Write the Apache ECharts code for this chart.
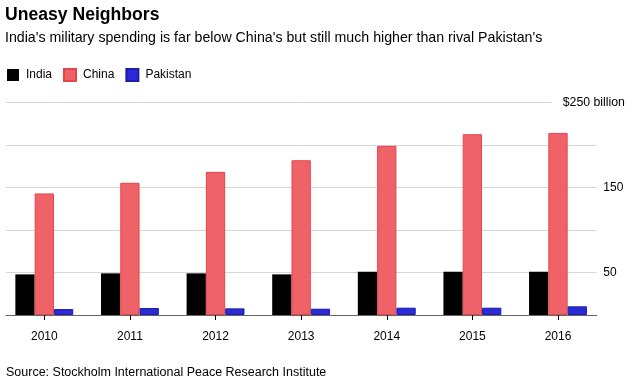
<!DOCTYPE html>
<html>
<head>
<meta charset="utf-8">
<script src="https://cdn.jsdelivr.net/npm/echarts@6/dist/echarts.min.js"></script>
<style>
html,body{margin:0;padding:0;background:#fff;}
#chart{width:640px;height:387px;}
</style>
</head>
<body>
<div id="chart"></div>
<script>
var years = ['2010', '2011', '2012', '2013', '2014', '2015', '2016'];
var india = [47.8, 49.0, 49.0, 47.8, 50.9, 50.9, 50.9];
var china = [143.0, 155.5, 168.4, 182.1, 199.0, 212.7, 214.2];
var pakistan = [7.0, 8.2, 7.8, 7.4, 8.6, 8.6, 10.2];
var yTickLabels = {50: '50', 150: '150', 250: '$250 billion'};

var FONT = '"Liberation Sans", Arial, sans-serif';
var chart = echarts.init(document.getElementById('chart'), null, {renderer: 'canvas'});
var option = {
  backgroundColor: '#fff',
  animation: false,
  textStyle: {fontFamily: FONT},
  title: [
    {text: 'Uneasy Neighbors', left: 5, top: 6, padding: 0,
     textStyle: {fontSize: 17.6, fontWeight: 'bold', color: '#000', fontFamily: FONT}},
    {text: "India's military spending is far below China's but still much higher than rival Pakistan's",
     left: 5, top: 31, padding: 0,
     textStyle: {fontSize: 14.2, fontWeight: 'normal', color: '#000', fontFamily: FONT}},
    {text: 'Source: Stockholm International Peace Research Institute', left: 6, top: 366, padding: 0,
     textStyle: {fontSize: 12.5, fontWeight: 'normal', color: '#000', fontFamily: FONT}}
  ],
  legend: {
    left: 7, top: 68, padding: 0, itemWidth: 12, itemHeight: 12, itemGap: 11,
    icon: 'rect',
    textStyle: {fontSize: 12, color: '#000', fontFamily: FONT, padding: [0, 0, 0, 2]},
    data: ['India', 'China', 'Pakistan']
  },
  grid: [
    {left: 6, right: 43.3, top: 102.5, bottom: 72, containLabel: false},
    {left: 1.5, right: 39.2, top: 102.5, bottom: 72, containLabel: false}
  ],
  xAxis: [
    {gridIndex: 0, type: 'category', data: years,
     axisLine: {show: true, lineStyle: {color: '#666', width: 1}},
     axisTick: {show: false}, axisLabel: {show: false}, splitLine: {show: false}},
    {gridIndex: 1, type: 'category', data: years,
     axisLine: {show: false},
     axisTick: {show: true, alignWithLabel: true, length: 5, lineStyle: {color: '#000'}},
     axisLabel: {show: true, margin: 16, fontSize: 12, color: '#000', fontFamily: FONT},
     splitLine: {show: false}}
  ],
  yAxis: [
    {gridIndex: 0, type: 'value', position: 'right', min: 0, max: 250, interval: 50,
     axisLine: {show: false}, axisTick: {show: false},
     splitLine: {show: true, lineStyle: {color: '#d6d6d6', width: 1}},
     axisLabel: {margin: 6.6, fontSize: 12, color: '#000', fontFamily: FONT,
       formatter: function (v) { return (v === 50 || v === 150) ? yTickLabels[v] : ''; }}},
    {gridIndex: 0, type: 'value', position: 'right', min: 0, max: 250, interval: 50, z: 5,
     axisLine: {show: false}, axisTick: {show: false}, splitLine: {show: false},
     axisLabel: {margin: -45, fontSize: 12, color: '#000', fontFamily: FONT,
       formatter: function (v) { return v === 250 ? '{a|' + yTickLabels[v] + '}' : ''; },
       rich: {a: {fontSize: 12.3, color: '#000', fontFamily: FONT, backgroundColor: '#fff', padding: [3, 4, 3, 11]}}}},
    {gridIndex: 1, type: 'value', min: 0, max: 250, interval: 50, show: false}
  ],
  series: [
    {name: 'India', type: 'bar', xAxisIndex: 1, yAxisIndex: 2, data: india,
     barWidth: 19.3, barGap: '0%',
     itemStyle: {color: '#000000'}},
    {name: 'China', type: 'bar', xAxisIndex: 1, yAxisIndex: 2, data: china,
     barWidth: 19.3, barGap: '0%',
     itemStyle: {color: '#ef6368', borderColor: '#e8444c', borderWidth: 1}},
    {name: 'Pakistan', type: 'bar', xAxisIndex: 1, yAxisIndex: 2, data: pakistan,
     barWidth: 19.3, barGap: '0%',
     itemStyle: {color: '#2b2bd6', borderColor: '#1c1cae', borderWidth: 1}}
  ]
};
chart.setOption(option);
</script>
</body>
</html>
